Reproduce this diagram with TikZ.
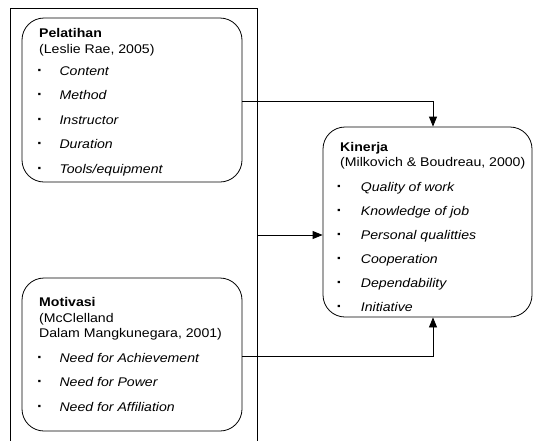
\documentclass[tikz,border=0pt]{standalone}
\usepackage{fontspec}
\setmainfont{Liberation Sans}[FakeStretch=1.12]
\usetikzlibrary{arrows.meta}
\begin{document}
\begin{tikzpicture}[x=1pt,y=-1pt,
  box/.style={draw,rounded corners=22pt,line width=0.8pt,inner sep=0pt},
  txt/.style={anchor=base west,inner sep=0pt,font=\fontsize{12.6}{14}\selectfont},
  ttl/.style={txt,font=\fontsize{12.6}{14}\selectfont\bfseries},
  itm/.style={txt,font=\fontsize{12.6}{14}\selectfont\itshape},
  dot/.style={txt,font=\fontsize{15}{16}\selectfont\bfseries},
  arr/.style={line width=0.8pt,-{Triangle[length=10pt,width=8pt]}}]
\useasboundingbox (0,0) rectangle (533,440);
\draw[line width=0.8pt] (10,445) -- (10,8) -- (257,8) -- (257,445);
\coordinate (Oright) at (257,235);
% boxes
\node[box,minimum width=220pt,minimum height=164pt] (P) at (132,100) {};
\node[box,minimum width=220pt,minimum height=153pt] (M) at (132,354.5) {};
\node[box,minimum width=209pt,minimum height=190pt] (K) at (427.5,222) {};
% Pelatihan
\node[ttl] (p0) at (39,37.3) {Pelatihan};
\node[txt] (p1) at (39,53.3) {(Leslie Rae, 2005)};
\foreach \t [count=\i] in {Content,Method,Instructor,Duration,Tools/equipment}{
  \node[dot] (pd\i) at (37,{75+(\i-1)*24.5}) {\textperiodcentered};
  \node[itm] (pi\i) at (59.3,{75+(\i-1)*24.5}) {\t};
}
% Motivasi
\node[ttl] (m0) at (39,306.7) {Motivasi};
\node[txt] (m1) at (39,322.3) {(McClelland};
\node[txt] (m2) at (39,337.7) {Dalam Mangkunegara, 2001)};
\foreach \t [count=\i] in {Need for Achievement,Need for Power,Need for Affiliation}{
  \node[dot] (md\i) at (37,{362.3+(\i-1)*24.4}) {\textperiodcentered};
  \node[itm] (mi\i) at (59.3,{362.3+(\i-1)*24.4}) {\t};
}
% Kinerja
\node[ttl] (k0) at (340,151.7) {Kinerja};
\node[txt] (k1) at (340,166.7) {(Milkovich \& Boudreau, 2000)};
\foreach \t [count=\i] in {Quality of work,Knowledge of job,Personal qualitties,Cooperation,Dependability,Initiative}{
  \node[dot] (kd\i) at (336.5,{191.7+(\i-1)*24}) {\textperiodcentered};
  \node[itm] (ki\i) at (360.7,{191.7+(\i-1)*24}) {\t};
}
% arrows
\draw[arr] ([yshift=-1pt]P.east) -| ([xshift=5.5pt]K.north);
\draw[arr] (Oright) -- (K.west |- Oright);
\draw[arr] ([yshift=-1.5pt]M.east) -| ([xshift=5.5pt]K.south);
\end{tikzpicture}
\end{document}
